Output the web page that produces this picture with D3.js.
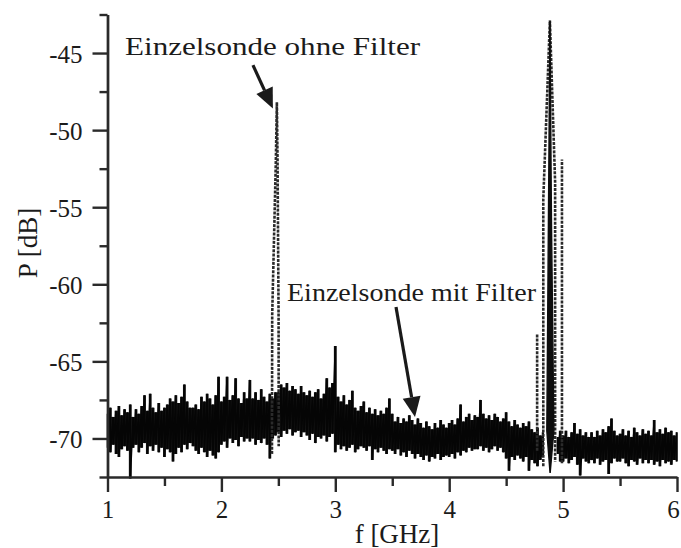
<!DOCTYPE html>
<html>
<head>
<meta charset="utf-8">
<script src="https://cdn.jsdelivr.net/npm/d3@7"></script>
<style>
  html, body { margin: 0; padding: 0; background: #fff; }
  svg { display: block; }
</style>
</head>
<body>
<script>
// Spectrum analyser trace, 1–6 GHz, sampled every 25 MHz.
// noiseHigh / noiseLow: upper and lower envelope of the noise floor (dB).
const sweepStart = 1.0;
const sweepStep = 0.025;

const noiseHigh = [
  -68.4,-68.0,-68.6,-68.2,-67.9,-68.5,-68.1,-68.3,-67.8,-68.6,
  -68.1,-68.4,-67.9,-67.2,-68.2,-67.1,-68.0,-68.3,-67.7,-68.2,
  -68.0,-67.8,-67.4,-67.6,-67.2,-67.7,-67.3,-66.5,-67.6,-68.0,
  -68.0,-67.8,-68.1,-67.3,-67.6,-67.1,-67.4,-67.8,-67.2,-66.0,
  -67.6,-67.3,-66.0,-67.5,-67.2,-66.1,-67.4,-67.7,-67.0,-67.4,
  -66.2,-67.4,-67.0,-67.5,-66.8,-67.3,-67.6,-67.1,-67.4,-67.0,
  -67.0,-66.5,-66.7,-66.4,-66.9,-66.6,-66.8,-67.1,-66.6,-67.0,
  -67.2,-66.9,-67.3,-67.0,-66.8,-67.4,-67.1,-66.1,-66.7,-66.4,
  -64.0,-67.3,-67.6,-67.2,-67.8,-67.5,-66.9,-68.0,-68.2,-67.9,
  -67.6,-68.3,-68.0,-68.4,-68.1,-68.5,-68.2,-68.4,-68.0,-67.4,
  -68.4,-68.9,-68.6,-69.0,-68.7,-68.9,-68.5,-68.8,-69.1,-68.7,
  -69.0,-69.3,-68.9,-69.2,-69.4,-69.0,-69.3,-68.8,-69.1,-69.3,
  -69.0,-68.8,-69.1,-68.7,-67.8,-68.9,-68.6,-68.4,-68.8,-68.5,
  -68.6,-67.5,-68.4,-68.7,-68.5,-68.8,-68.4,-68.6,-68.9,-68.7,
  -68.3,-68.9,-69.2,-68.8,-69.1,-69.3,-69.0,-69.2,-68.9,-69.4,
  -69.6,-69.3,-69.8,-69.6, null, null, null, null,-69.9,-69.5,
  -69.8,-69.5,-69.9,-69.6,-69.0,-69.7,-69.4,-69.8,-69.6,-69.9,
  -69.6,-69.9,-69.5,-69.8,-69.4,-69.6,-69.2,-68.7,-69.5,-69.8,
  -69.7,-69.4,-69.8,-69.5,-69.9,-69.3,-69.6,-69.8,-69.4,-69.7,
  -69.5,-69.8,-68.8,-69.6,-69.4,-69.7,-69.3,-69.6,-69.5,-69.8,
  -69.6
];

const noiseLow = [
  -70.6,-70.9,-70.4,-71.0,-71.2,-70.7,-70.5,-70.8,-72.6,-70.6,
  -70.4,-70.9,-70.6,-70.3,-71.0,-70.5,-70.8,-70.4,-70.9,-70.6,
  -71.2,-70.7,-70.9,-71.5,-71.0,-70.6,-70.9,-70.4,-70.7,-70.3,
  -70.5,-70.8,-71.0,-70.6,-70.9,-71.2,-70.8,-71.1,-71.3,-70.9,
  -70.4,-70.2,-70.6,-70.0,-70.3,-70.1,-70.5,-69.9,-70.2,-70.0,
  -70.2,-70.0,-70.4,-70.1,-70.3,-70.0,-70.4,-71.3,-70.0,-69.8,
  -69.6,-69.9,-69.5,-69.7,-69.4,-69.8,-69.6,-69.5,-69.9,-69.6,
  -69.8,-70.1,-69.7,-70.3,-69.9,-70.0,-69.8,-70.2,-69.9,-69.7,
  -70.9,-70.4,-70.7,-70.5,-70.8,-70.6,-70.4,-70.9,-70.7,-70.5,
  -70.6,-70.8,-70.5,-71.4,-70.7,-70.9,-70.6,-70.8,-71.0,-70.7,
  -70.8,-71.0,-70.7,-71.1,-70.9,-71.2,-70.8,-71.0,-71.3,-71.0,
  -71.2,-71.4,-71.1,-71.5,-71.2,-71.3,-71.0,-71.4,-71.2,-71.1,
  -71.2,-71.0,-71.3,-70.9,-71.1,-70.8,-70.9,-70.6,-70.8,-70.7,
  -70.7,-70.5,-70.8,-70.6,-70.9,-70.7,-70.5,-70.8,-70.6,-70.9,
  -71.3,-72.1,-71.2,-71.4,-71.1,-71.3,-71.5,-71.2,-72.1,-71.4,
  -71.6,-71.8,-71.4,-71.2, null, null, null, null,-71.0,-71.5,
  -71.5,-71.3,-71.6,-71.4,-71.2,-71.7,-72.4,-71.3,-71.5,-71.6,
  -71.4,-71.6,-71.3,-71.7,-71.5,-71.4,-72.3,-71.6,-71.3,-71.5,
  -71.5,-71.3,-71.6,-71.8,-71.4,-71.5,-71.7,-71.3,-71.6,-71.4,
  -71.6,-71.4,-71.7,-71.5,-71.8,-71.4,-71.6,-71.5,-71.7,-71.4,
  -71.5
];

// Carrier lines of the probe without filter (dashed trace)
const ohnePeakAF = [2.444, 2.446, 2.478, 2.487, 2.493, 2.502, 2.503];
const ohnePeakAP = [-71.0, -62.0, -52.0, -48.2, -52.0, -62.0, -70.5];
const ohneSpikeBF = [4.772, 4.772];
const ohneSpikeBP = [-70.8, -63.2];
const ohnePeakCF = [4.826, 4.826, 4.884, 4.930, 4.930];
const ohnePeakCP = [-71.8, -54.5, -42.9, -53.4, -71.5];
const ohneSpikeDF = [4.990, 4.990];
const ohneSpikeDP = [-71.6, -51.9];

// Carrier of the probe with filter (solid trace)
const mitPeakF = [4.885, 4.857, 4.871, 4.8845, 4.898, 4.919, 4.887];
const mitPeakP = [-72.2, -69.5, -56.0, -42.9, -56.0, -69.5, -72.2];

// Axis ticks
const xMajor = [1, 2, 3, 4, 5, 6];
const xMinor = [1.5, 2.5, 3.5, 4.5, 5.5];
const yMajor = [-45, -50, -55, -60, -65, -70];
const yMinor = [-42.5, -47.5, -52.5, -57.5, -62.5, -67.5, -72.5];

const xTitle = "f [GHz]";
const yTitle = "P [dB]";
const labelOhne = "Einzelsonde ohne Filter";
const labelMit = "Einzelsonde mit Filter";

// ---------------------------------------------------------------------
const W = 681, H = 548;
const FONT = "'Liberation Serif', 'DejaVu Serif', serif";
const INK = "#1b1b1b";

const svg = d3.select("body").append("svg")
  .attr("width", W).attr("height", H)
  .attr("viewBox", `0 0 ${W} ${H}`);

const x = d3.scaleLinear().domain([1, 6]).range([107.5, 677]);
const y = d3.scaleLinear().domain([-72.5, -42.5]).range([477, 14.5]);

const noiseFreq = noiseHigh.map((_, i) => sweepStart + i * sweepStep);
const noise = noiseFreq.map((f, i) => ({ f, hi: noiseHigh[i], lo: noiseLow[i] }));

const plot = svg.append("g");

// Noise floor: filled band between the envelopes (stepped, so edges read as spikes)
const band = d3.area()
  .defined(d => d.hi != null)
  .curve(d3.curveStep)
  .x(d => x(d.f)).y0(d => y(d.lo)).y1(d => y(d.hi));

plot.append("path")
  .attr("d", band(noise))
  .attr("fill", "#141414");

// zig-zag between the envelopes for the spiky texture
const zig = [];
noise.forEach(d => {
  if (d.hi == null) { zig.push(null); return; }
  zig.push([d.f, d.hi], [d.f, d.lo]);
});
const line = d3.line()
  .defined(d => d != null)
  .x(d => x(d[0])).y(d => y(d[1]));

plot.append("path")
  .attr("d", line(zig))
  .attr("fill", "none")
  .attr("stroke", "#050505")
  .attr("stroke-width", 1.6);

const zip = (fs, ps) => fs.map((f, i) => [f, ps[i]]);

// dashed trace (ohne Filter)
[[ohnePeakAF, ohnePeakAP], [ohneSpikeBF, ohneSpikeBP],
 [ohnePeakCF, ohnePeakCP], [ohneSpikeDF, ohneSpikeDP]].forEach(([fs, ps]) => {
  plot.append("path")
    .attr("d", line(zip(fs, ps)))
    .attr("fill", "none")
    .attr("stroke", "#2b2b2b")
    .attr("stroke-width", 2.6)
    .attr("stroke-dasharray", "3,1.2");
});

// solid carrier (mit Filter)
plot.append("path")
  .attr("d", line(zip(mitPeakF, mitPeakP)) + "Z")
  .attr("fill", "#0d0d0d")
  .attr("stroke", "#0d0d0d")
  .attr("stroke-width", 1.4);

// ---------------------------------------------------------------------
// Axes
const axisColor = "#2a2a2a";
const hyphenFmt = d => String(d);   // plain hyphen-minus, e.g. "-45"

function styleAxis(g) {
  g.selectAll(".domain").attr("stroke", axisColor).attr("stroke-width", 2.4);
  g.selectAll(".tick line").attr("stroke", axisColor).attr("stroke-width", 2.4);
  g.selectAll("text")
    .attr("font-family", FONT).attr("font-size", 25).attr("fill", INK);
}

const xAxis = svg.append("g").attr("transform", `translate(0,${y(-72.5)})`)
  .call(d3.axisBottom(x).tickValues(xMajor).tickSize(15).tickSizeOuter(0)
    .tickFormat(hyphenFmt).tickPadding(5));
styleAxis(xAxis);
xAxis.selectAll("text").attr("dy", "0.82em");
xAxis.selectAll(".tick").filter(d => d === 6).select("text").attr("dx", -4);

const xAxisMinor = svg.append("g").attr("transform", `translate(0,${y(-72.5)})`)
  .call(d3.axisBottom(x).tickValues(xMinor).tickSize(9).tickSizeOuter(0).tickFormat(""));
styleAxis(xAxisMinor);
xAxisMinor.select(".domain").remove();

const yAxis = svg.append("g").attr("transform", `translate(${x(1)},0)`)
  .call(d3.axisLeft(y).tickValues(yMajor).tickSize(15).tickSizeOuter(0)
    .tickFormat(hyphenFmt).tickPadding(10));
styleAxis(yAxis);
yAxis.selectAll("text").attr("dy", "0.36em");

const yAxisMinor = svg.append("g").attr("transform", `translate(${x(1)},0)`)
  .call(d3.axisLeft(y).tickValues(yMinor).tickSize(8).tickSizeOuter(0).tickFormat(""));
styleAxis(yAxisMinor);

// Axis titles
svg.append("text")
  .attr("x", 397).attr("y", 543)
  .attr("text-anchor", "middle")
  .attr("font-family", FONT).attr("font-size", 27).attr("fill", INK)
  .text(xTitle);

svg.append("text")
  .attr("transform", `translate(37,243) rotate(-90)`)
  .attr("text-anchor", "middle")
  .attr("font-family", FONT).attr("font-size", 27).attr("fill", INK)
  .text(yTitle);

// ---------------------------------------------------------------------
// Annotations with arrows
function arrow(f0, p0, f1, p1) {
  const x0 = x(f0), y0 = y(p0), x1 = x(f1), y1 = y(p1);
  const ang = Math.atan2(y1 - y0, x1 - x0);
  const len = 20, half = 9;
  const bx = x1 - len * Math.cos(ang), by = y1 - len * Math.sin(ang);
  svg.append("line")
    .attr("x1", x0).attr("y1", y0).attr("x2", bx).attr("y2", by)
    .attr("stroke", "#1a1a1a").attr("stroke-width", 3.2);
  const nx = -Math.sin(ang), ny = Math.cos(ang);
  svg.append("path")
    .attr("d", `M${x1},${y1}L${bx + nx * half},${by + ny * half}L${bx - nx * half},${by - ny * half}Z`)
    .attr("fill", "#1a1a1a");
}

svg.append("text")
  .attr("x", x(1.154)).attr("y", y(-45.13))
  .attr("font-family", FONT).attr("font-size", 26).attr("fill", INK)
  .attr("textLength", 295).attr("lengthAdjust", "spacingAndGlyphs")
  .text(labelOhne);
arrow(2.277, -45.78, 2.452, -48.6);

svg.append("text")
  .attr("x", x(2.576)).attr("y", y(-61.08))
  .attr("font-family", FONT).attr("font-size", 26).attr("fill", INK)
  .attr("textLength", 249).attr("lengthAdjust", "spacingAndGlyphs")
  .text(labelMit);
arrow(3.533, -61.47, 3.700, -68.6);
</script>
</body>
</html>
